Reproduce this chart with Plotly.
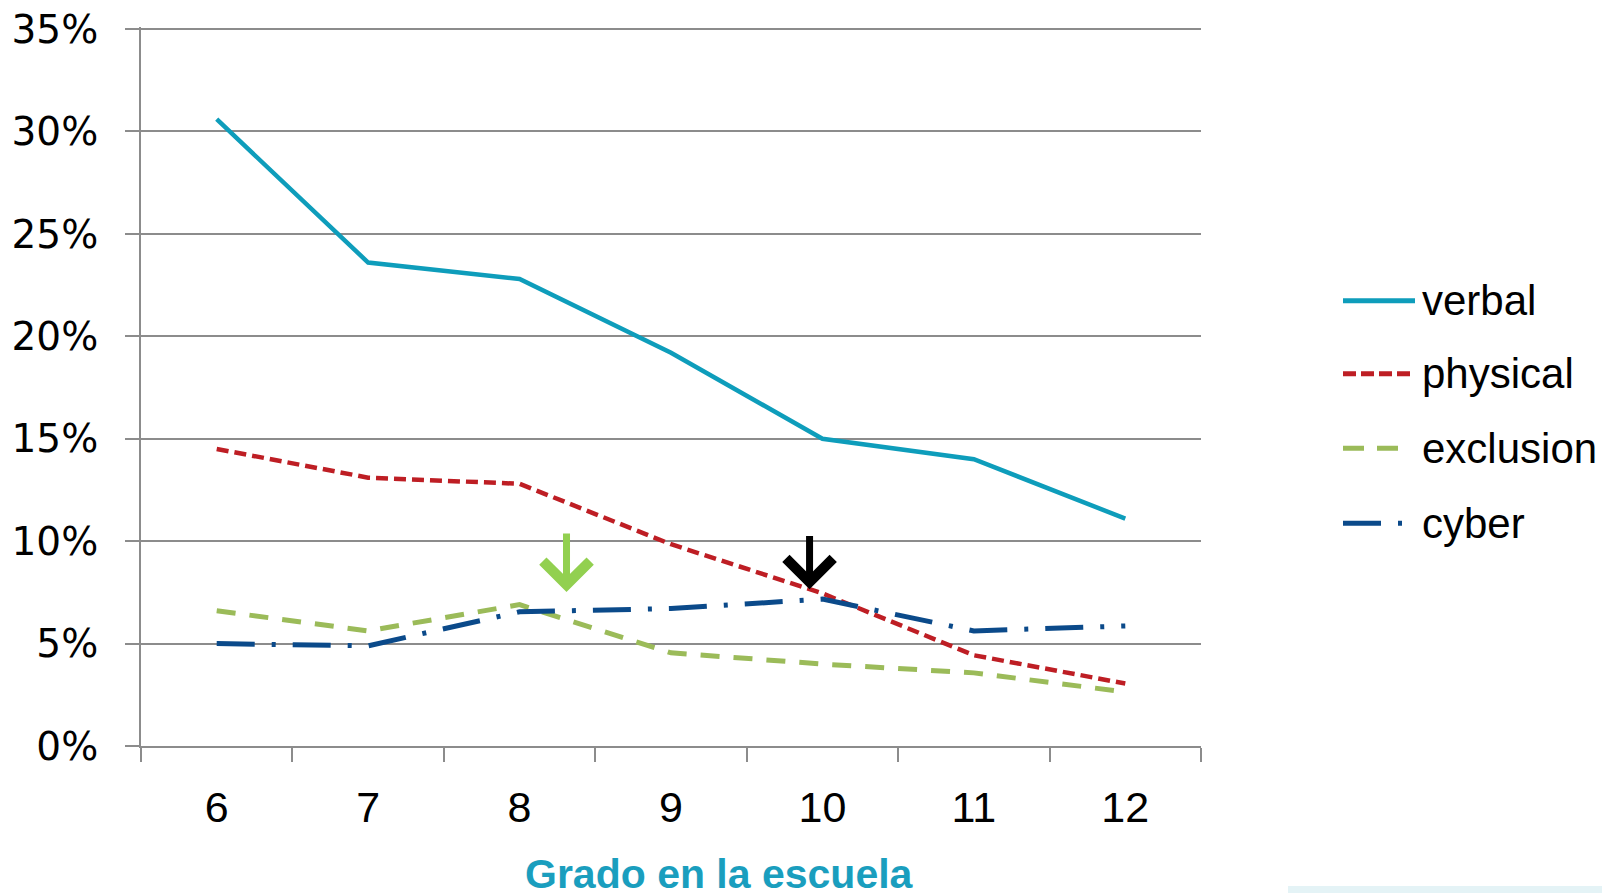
import plotly.graph_objects as go

# ---------------- data ----------------
grades = ["6", "7", "8", "9", "10", "11", "12"]
verbal = [0.306, 0.236, 0.228, 0.192, 0.150, 0.140, 0.111]
physical = [0.145, 0.131, 0.128, 0.0985, 0.0745, 0.0443, 0.0305]
exclusion = [0.066, 0.0562, 0.069, 0.0455, 0.040, 0.0357, 0.0264]
cyber = [0.050, 0.0489, 0.0655, 0.0671, 0.0717, 0.0562, 0.0586]

series_names = ["verbal", "physical", "exclusion", "cyber"]
series_values = [verbal, physical, exclusion, cyber]
series_colors = ["#0E9DBB", "#BE1E24", "#9BBB59", "#0B4A8A"]
series_dash = ["solid", "12px,6px", "19px,14px", "38px,17px,4px,17px"]
series_width = [4.5, 4.5, 5, 5]
legend_dash = ["solid", "13px,5px", "21px,13px", "38px,17px,4px,17px"]

y_ticks = [0, 0.05, 0.10, 0.15, 0.20, 0.25, 0.30, 0.35]
x_title = "Grado en la escuela"

# arrows (category index position, tip value, tail value)
arrow_x = [2.31, 3.915]
arrow_tip = [0.0752, 0.0765]
arrow_tail = [0.1045, 0.1032]
arrow_color = ["#92D050", "#000000"]

# ---------------- layout geometry ----------------
OFF = 8  # page body margin
W, H = 1610 - OFF, 893 - OFF
L, T = 141 - OFF, 27 - OFF
PW, PH = 1060, 719
R = W - L - PW
B = H - T - PH


def px_x(p):  # page pixel -> paper coordinate
    return (p - OFF - L) / PW


def px_y(p):
    return (T + PH - (p - OFF)) / PH


fig = go.Figure()
for name, vals, col, dash, wd in zip(series_names, series_values, series_colors,
                                     series_dash, series_width):
    fig.add_trace(go.Scatter(
        x=grades, y=vals, mode="lines", name=name,
        line=dict(color=col, dash=dash, width=wd),
        showlegend=False,
    ))

gray = "#8C8C8C"
fig.update_layout(
    width=W, height=H, autosize=False,
    margin=dict(l=L, r=R, t=T, b=B, pad=0, autoexpand=False),
    paper_bgcolor="white", plot_bgcolor="white",
    xaxis=dict(
        type="category", categoryorder="array", categoryarray=grades,
        range=[-0.5, 6.5], automargin=False,
        showgrid=False, zeroline=False,
        showline=True, linecolor=gray, linewidth=2,
        ticks="outside", tickson="boundaries", ticklen=14, tickwidth=2, tickcolor=gray,
        tickfont=dict(family="Liberation Sans", size=43, color="black"),
        ticklabelstandoff=22, ticklabeloverflow="allow",
    ),
    yaxis=dict(
        range=[0, 0.351], automargin=False,
        tickmode="array", tickvals=y_ticks, tickformat=".0%",
        showgrid=True, gridcolor=gray, gridwidth=2,
        zeroline=False,
        showline=True, linecolor=gray, linewidth=2,
        ticks="outside", ticklen=14, tickwidth=2, tickcolor=gray,
        tickfont=dict(family="DejaVu Sans", size=39, color="black"),
        ticklabelstandoff=19, ticklabeloverflow="allow",
    ),
)

annotations = []
shapes = []

# x-axis title
annotations.append(dict(
    xref="paper", yref="paper", x=px_x(719), y=px_y(874),
    xanchor="center", yanchor="middle", showarrow=False,
    text="<b>" + x_title + "</b>",
    font=dict(family="Liberation Sans", size=41, color="#1A9EBE"),
))

# arrows
for ax_, tip, tail, col in zip(arrow_x, arrow_tip, arrow_tail, arrow_color):
    annotations.append(dict(
        xref="x", yref="y", axref="x", ayref="y",
        x=ax_, y=tip, ax=ax_, ay=tail, text="",
        showarrow=True, arrowhead=4, arrowwidth=7, arrowsize=1.3,
        arrowcolor=col, standoff=0,
    ))

# manual legend
legend_y = [300.7, 373.8, 448.3, 523.3]
legend_end = [1415, 1413, 1399, 1403]
for name, col, dash, ly, le in zip(series_names, series_colors, legend_dash,
                                   legend_y, legend_end):
    shapes.append(dict(
        type="line", xref="paper", yref="paper",
        x0=px_x(1343), x1=px_x(le), y0=px_y(ly), y1=px_y(ly),
        line=dict(color=col, width=5, dash=dash),
    ))
    annotations.append(dict(
        xref="paper", yref="paper", x=px_x(1420), y=px_y(ly),
        xanchor="left", yanchor="middle", showarrow=False,
        text=name, font=dict(family="Liberation Sans", size=42, color="black"),
    ))

# faint strip at bottom right
shapes.append(dict(
    type="rect", xref="paper", yref="paper",
    x0=px_x(1288), x1=px_x(1610), y0=px_y(893), y1=px_y(886),
    fillcolor="#E4F3F6", line=dict(width=0), layer="below",
))

fig.update_layout(annotations=annotations, shapes=shapes)
fig.write_html("out.html")
